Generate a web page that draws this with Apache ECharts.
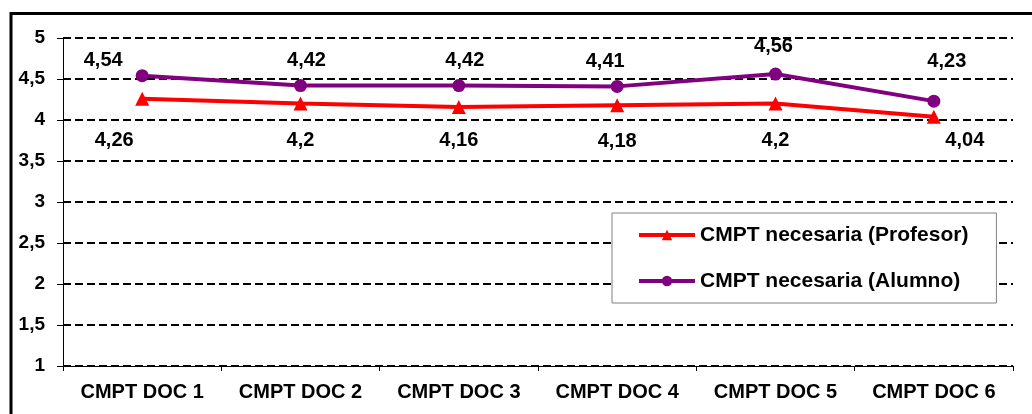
<!DOCTYPE html>
<html><head><meta charset="utf-8">
<script src="https://cdn.jsdelivr.net/npm/echarts@6/dist/echarts.min.js"></script>
<style>html,body{margin:0;padding:0;background:#fff}#c{width:1032px;height:414px}</style>
</head><body><div id="c"></div>
<script>
const categories = ['CMPT DOC 1','CMPT DOC 2','CMPT DOC 3','CMPT DOC 4','CMPT DOC 5','CMPT DOC 6'];
const profesor = [4.26, 4.2, 4.16, 4.18, 4.2, 4.04];
const alumno = [4.54, 4.42, 4.42, 4.41, 4.56, 4.23];
const yTicks = [1, 1.5, 2, 2.5, 3, 3.5, 4, 4.5, 5];

const profOffsets = [[-28,42],[0,37],[0,34],[0,36],[0,37],[31,24]];
const aluOffsets = [[-39,-15],[6,-25],[6,-25],[-12,-25],[-2,-28],[13,-40]];
const fmt = v => String(v).replace('.', ',');
const font = 'Liberation Sans, Arial, sans-serif';

function mk(vals, offs) {
  return vals.map((v, i) => ({ value: v, label: { offset: offs[i] } }));
}

const chart = echarts.init(document.getElementById('c'));
chart.setOption({
  animation: false,
  graphic: [{ type: 'rect', shape: { x: 11, y: 13.5, width: 1040, height: 430 },
    style: { fill: 'none', stroke: '#000', lineWidth: 3 }, silent: true, z: 100 }],
  grid: { left: 63, top: 38, right: 19, bottom: 48 },
  legend: {
    orient: 'vertical', left: 612, top: 213,
    padding: [11.5, 28, 11.5, 25],
    borderColor: '#808080', borderWidth: 1, backgroundColor: '#fff',
    itemWidth: 56, itemHeight: 13, itemGap: 25,
    lineStyle: { width: 4 },
    textStyle: { fontFamily: font, fontWeight: 'bold', fontSize: 21, color: '#000' },
    data: ['CMPT necesaria (Profesor)', 'CMPT necesaria (Alumno)']
  },
  xAxis: {
    type: 'category', data: categories, boundaryGap: true,
    axisLine: { lineStyle: { color: '#000', width: 1 } },
    axisTick: { show: true, length: 5, lineStyle: { color: '#000' } },
    axisLabel: { interval: 0, margin: 16, fontFamily: font, fontWeight: 'bold', fontSize: 20, color: '#000' }
  },
  yAxis: {
    type: 'value', min: yTicks[0], max: yTicks[yTicks.length - 1], interval: 0.5,
    axisLine: { show: true, lineStyle: { color: '#000', width: 1 } },
    axisTick: { show: true, length: 6, lineStyle: { color: '#000' } },
    axisLabel: { margin: 18, fontFamily: font, fontWeight: 'bold', fontSize: 19, color: '#000', formatter: v => fmt(v) },
    splitLine: { show: true, lineStyle: { color: '#000', width: 2, type: [8, 4] } }
  },
  series: [
    {
      name: 'CMPT necesaria (Profesor)', type: 'line', data: mk(profesor, profOffsets),
      symbol: 'triangle', symbolSize: 14,
      lineStyle: { color: '#ff0000', width: 4 }, itemStyle: { color: '#ff0000' },
      label: { show: true, position: 'inside', fontFamily: font, fontWeight: 'bold', fontSize: 20, color: '#000', formatter: p => fmt(p.value) },
      z: 3
    },
    {
      name: 'CMPT necesaria (Alumno)', type: 'line', data: mk(alumno, aluOffsets),
      symbol: 'circle', symbolSize: 13,
      lineStyle: { color: '#800080', width: 4 }, itemStyle: { color: '#800080' },
      label: { show: true, position: 'inside', fontFamily: font, fontWeight: 'bold', fontSize: 20, color: '#000', formatter: p => fmt(p.value) },
      z: 4
    }
  ]
});
</script></body></html>
